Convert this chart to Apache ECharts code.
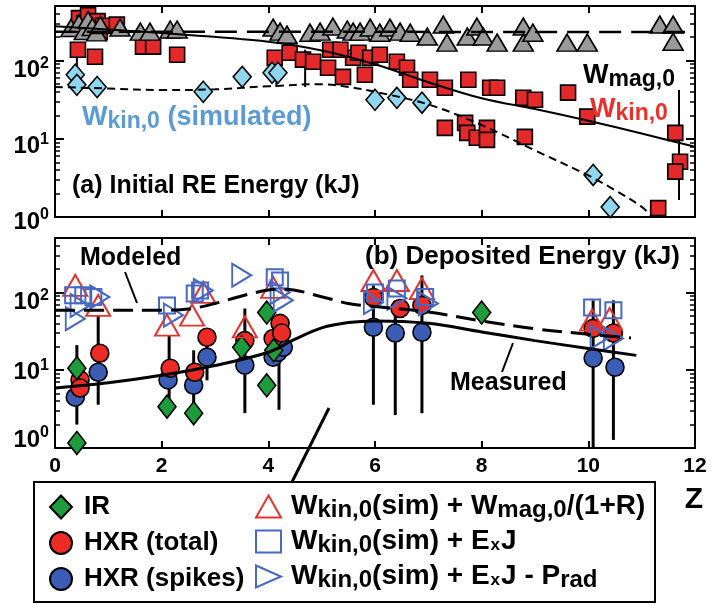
<!DOCTYPE html>
<html>
<head>
<meta charset="utf-8">
<script src="https://cdn.jsdelivr.net/npm/echarts@6/dist/echarts.min.js"></script>
<style>
  html, body { margin: 0; padding: 0; background: #fff; }
  #chart { width: 717px; height: 605px; }
</style>
</head>
<body>
<div id="chart"></div>
<script>
const FONT = '"Liberation Sans", Arial, Helvetica, sans-serif';

// Axis ticks
const zTicks = [0, 2, 4, 6, 8, 10, 12];
const decadeTicks = [1, 10, 100];
const minorTicks = [2, 3, 4, 5, 6, 7, 8, 9, 20, 30, 40, 50, 60, 70, 80, 90, 200, 300, 400, 500];

// ---- (a) Initial RE energy (kJ) vs Z ----
const wMag0 = [[0.3,262],[0.45,300],[0.55,240],[0.62,330],[0.7,270],[0.78,230],[0.85,285],[1.22,265],[1.6,235],[1.78,235],
  [2.16,250],[2.29,250],[4.09,265],[4.22,235],[4.35,215],[4.78,228],[4.97,235],[5.21,273],[5.48,250],[5.59,235],[5.72,235],
  [5.91,265],[6.09,228],[6.28,265],[6.47,235],[6.66,228],[6.98,203],[7.28,289],[7.35,170],[7.73,203],[7.91,273],[8.03,203],
  [8.29,170],[8.78,273],[8.78,170],[8.96,228],[9.6,170],[9.98,170],[11.34,289],[11.59,289],[11.59,175]];
const wKin0 = [[0.43,138],[0.45,350],[0.55,300],[0.62,380],[0.7,260],[0.75,112],[0.8,320],[0.84,235],[0.9,280],[1.16,289],
  [1.65,151],[1.84,151],[2.29,119],[4.12,109],[4.4,126],[4.65,103],[4.84,97],[5.12,81],[5.4,62],[5.59,109],[5.16,138],[5.35,138],
  [5.69,126],[5.91,109],[6.09,119],[5.81,66],[6.41,97],[6.6,81],[6.66,57],[7.03,57],[7.31,45],[7.75,57],[8.16,45],[8.29,45],
  [8.78,33.5],[9.0,31.6],[9.62,39],[9.98,19.2],[7.31,13.8],[7.69,16],[7.73,11.9],[7.91,10.3],[8.1,13.8],[8.1,9.7],[8.81,10.6],
  [11.63,11.9],[11.72,5.1],[11.63,3.8],[11.31,1.3]];
const wKin0Sim = [[0.38,66],[0.41,49],[0.79,46],[2.78,40],[3.51,62],[4.07,70],[4.18,70],[6.0,31.6],[6.41,33.5],[6.88,29],[10.09,3.45],[10.41,1.34]];
const wMag0Fit = [[0,235],[12,232]];
const wKin0Fit = [[0,275],[2,225],[4,175],[5,135],[6,90],[7,53],[8,33],[9,24],[10,17],[11,11.7],[12,7.9]];
const wKin0SimFit = [[0,46],[1,44],[2,42],[3,43],[4,47],[5,50],[5.5,46],[6,40],[7,27.5],[8,15],[9,7.1],[10,3.4],[10.5,2.2],[11,1.35],[11.2,1.0]];
const wKin0Err = [[0.41,49,138],[4.15,46,100],[4.69,46,138],[8.1,8,16],[11.7,1.65,42]];   // [Z, low, high]

// ---- (b) Deposited energy (kJ) vs Z ----
const irData = [[0.41,10.6],[0.41,1.16],[2.1,3.4],[2.6,2.8],[3.5,19.7],[3.97,55],[4.1,18],[3.97,6.4],[8.0,55]];
const hxrTotal = [[0.47,7.5],[0.47,5.9],[0.84,16.5],[2.16,10.6],[2.62,9.4],[2.85,26.5],[3.56,24],[4.09,25.6],[4.22,40],[4.25,30],
  [5.97,86],[6.47,62],[6.88,68],[10.09,34.5],[10.47,30]];
const hxrSpikes = [[0.38,4.5],[0.81,9.4],[2.12,7.5],[2.6,6.4],[2.85,14.7],[3.56,11.6],[4.09,14.7],[4.18,17],[4.28,19.7],
  [5.97,35.6],[6.38,30],[6.88,30.7],[10.09,14.3],[10.5,10.9]];
const hxrErr = [[0.41,2.0,21],[0.81,3.6,51],[2.14,4.1,28],[2.6,2.3,18],[2.85,7.4,24],[3.56,2.8,62],[4.2,3.1,32.5],
  [5.97,3.6,123],[6.38,2.65,79],[6.88,2.8,165],[10.09,1.0,79],[10.47,1.27,79]];     // [Z, low, high]
const simPlusMag = [[0.38,123],[0.81,68],[2.1,38],[2.57,51],[2.78,100],[3.56,36],[4.09,116],[5.97,142],[6.41,142],[6.88,112],[10.07,44],[10.4,46]];
const simPlusEJ = [[0.34,92],[0.53,92],[0.72,87],[2.1,68],[2.62,97],[2.72,106],[4.12,156],[4.22,142],[6.0,100],[6.41,112],[6.94,87],[10.07,64],[10.47,59]];
const simPlusEJRad = [[0.38,46],[0.47,68],[0.84,87],[2.22,51],[2.78,106],[3.5,166],[4.22,100],[4.28,79],[5.97,74],[6.41,84],[7.0,72],[10.22,26.5],[10.47,25.6]];
const modeledFit = [[0,59],[1,59],[2,59],[2.5,61],[3,72],[3.5,90],[4,107],[4.3,110],[5,88],[5.5,72],[6,66],[7,56],[8,43],[9,34],[10,29],[10.8,26]];
const measuredFit = [[0,5.9],[1,6.9],[2,8.6],[3,11.5],[4,17],[4.5,25],[5,35],[5.5,41],[6,43],[7,40],[8,31],[9,24],[10,19],[10.9,15.5]];

// Legend entries
const legendLeft = ['IR', 'HXR (total)', 'HXR (spikes)'];
const legendRight = ['Wkin,0(sim) + Wmag,0/(1+R)', 'Wkin,0(sim) + ExJ', 'Wkin,0(sim) + ExJ - Prad'];
const legendRich = {
  'Wkin,0(sim) + Wmag,0/(1+R)': '{m|W}{s|kin,0}{m|(sim) + W}{s|mag,0}{m|/(1+R)}',
  'Wkin,0(sim) + ExJ': '{m|W}{s|kin,0}{m|(sim) + E}{x|x}{m|J}',
  'Wkin,0(sim) + ExJ - Prad': '{m|W}{s|kin,0}{m|(sim) + E}{x|x}{m|J - P}{s|rad}'
};

const RIGHT_TRI = 'path://M0,0L10,6L0,12Z';

function decadeLabel(offsets) {
  // offsets: vertical shift (px) of each decade label relative to its tick
  const rich = {
    b: { fontFamily: FONT, fontSize: 24, fontWeight: 'bold', color: '#000', lineHeight: 30 },
    s: { fontFamily: FONT, fontSize: 16, fontWeight: 'bold', color: '#000', verticalAlign: 'top' }
  };
  Object.keys(offsets).forEach(e => {
    rich['p' + e] = { fontSize: 1, lineHeight: Math.max(1, Math.abs(offsets[e]) * 2) };
  });
  return {
    customValues: decadeTicks,
    margin: 6,
    rich: rich,
    formatter: v => {
      const e = Math.round(Math.log10(v));
      const core = '{b|10}{s|' + e + '}';
      const d = offsets[e] || 0;
      if (d > 0) return '{p' + e + '| }\n' + core;
      if (d < 0) return core + '\n{p' + e + '| }';
      return core;
    }
  };
}

function xAxes(grid, withLabels) {
  const base = {
    gridIndex: grid, type: 'value', min: 0, max: 12, interval: 2,
    axisLine: { show: false }, splitLine: { show: false },
    axisTick: { inside: true, length: 7, lineStyle: { width: 2, color: '#000' } }
  };
  return [
    Object.assign({}, base, {
      position: 'bottom',
      axisLabel: withLabels
        ? { show: true, fontFamily: FONT, fontSize: 21, fontWeight: 'bold', color: '#000', margin: 8 }
        : { show: false }
    }),
    Object.assign({}, base, { position: 'top', axisLabel: { show: false } })
  ];
}

function yAxes(grid, offsets) {
  const base = {
    gridIndex: grid, type: 'log', logBase: 10, min: 1, max: 500,
    axisLine: { show: false }, splitLine: { show: false }, minorSplitLine: { show: false }
  };
  const major = { inside: true, length: 9, customValues: decadeTicks, lineStyle: { width: 2, color: '#000' } };
  const minor = { inside: true, length: 5, customValues: minorTicks, lineStyle: { width: 1.5, color: '#000' } };
  return [
    Object.assign({}, base, { position: 'left', axisTick: major, axisLabel: decadeLabel(offsets) }),
    Object.assign({}, base, { position: 'left', axisTick: minor, axisLabel: { show: false } }),
    Object.assign({}, base, { position: 'right', axisTick: major, axisLabel: { show: false } }),
    Object.assign({}, base, { position: 'right', axisTick: minor, axisLabel: { show: false } })
  ];
}

function errorBars(data, xi, yi, width) {
  return {
    type: 'custom', xAxisIndex: xi, yAxisIndex: yi, data: data, silent: true,
    encode: { x: 0, y: [1, 2] },
    renderItem: (params, api) => {
      const p1 = api.coord([api.value(0), api.value(1)]);
      const p2 = api.coord([api.value(0), api.value(2)]);
      return { type: 'line', shape: { x1: p1[0], y1: p1[1], x2: p2[0], y2: p2[1] },
               style: { stroke: '#000', lineWidth: width } };
    }
  };
}

function fitLine(data, xi, yi, width, dash) {
  return {
    type: 'line', xAxisIndex: xi, yAxisIndex: yi, data: data, symbol: 'none', smooth: 0.35, silent: true,
    lineStyle: { color: '#000', width: width, type: dash || 'solid' }
  };
}

function scatter(name, data, xi, yi, symbol, size, fill, stroke, bw) {
  return {
    name: name, type: 'scatter', xAxisIndex: xi, yAxisIndex: yi, data: data,
    symbol: symbol, symbolSize: size, symbolKeepAspect: false,
    itemStyle: { color: fill, borderColor: stroke, borderWidth: bw, opacity: 1 }
  };
}

const subRich = (color, main, sub) => ({
  w: { fontFamily: FONT, fontSize: main, fontWeight: 'bold', fill: color, lineHeight: 34 },
  s: { fontFamily: FONT, fontSize: sub, fontWeight: 'bold', fill: color, padding: [8, 0, 0, 0], lineHeight: 34 }
});

const chart = echarts.init(document.getElementById('chart'), null, { renderer: 'canvas' });

chart.setOption({
  animation: false,
  backgroundColor: '#fff',
  grid: [
    { left: 55, top: 6, width: 640, height: 211, show: true, borderColor: '#000', borderWidth: 2, backgroundColor: 'transparent' },
    { left: 55, top: 238, width: 640, height: 210, show: true, borderColor: '#000', borderWidth: 2, backgroundColor: 'transparent' }
  ],
  xAxis: xAxes(0, false).concat(xAxes(1, true)),
  yAxis: yAxes(0, { 0: 5, 1: 8, 2: 10 }).concat(yAxes(1, { 0: -8, 1: 2, 2: 10 })),
  legend: [
    {
      data: legendLeft, orient: 'vertical', left: 49, top: 491, padding: 0, itemGap: 4,
      itemWidth: 22, itemHeight: 23, symbolKeepAspect: false, selectedMode: false,
      textStyle: { fontFamily: FONT, fontSize: 26, fontWeight: 'bold', color: '#000', lineHeight: 32, padding: [0, 0, 0, 7] }
    },
    {
      data: legendRight, orient: 'vertical', left: 255, top: 491, padding: 0, itemGap: 4,
      itemWidth: 25, itemHeight: 22, symbolKeepAspect: false, selectedMode: false,
      formatter: n => legendRich[n],
      textStyle: {
        fontFamily: FONT, fontWeight: 'bold', color: '#000', padding: [0, 0, 0, 5],
        rich: {
          m: { fontFamily: FONT, fontSize: 28, fontWeight: 'bold', color: '#000', lineHeight: 32 },
          s: { fontFamily: FONT, fontSize: 24, fontWeight: 'bold', color: '#000', lineHeight: 32, padding: [7, 0, 0, 0] },
          x: { fontFamily: FONT, fontSize: 17, fontWeight: 'bold', color: '#000', lineHeight: 32, padding: [8, 1, 0, 1] }
        }
      }
    }
  ],
  series: [
    // (a)
    fitLine(wMag0Fit, 0, 0, 2.5, [22, 10]),
    fitLine(wKin0Fit, 0, 0, 2),
    fitLine(wKin0SimFit, 0, 0, 2, [8, 5]),
    errorBars(wKin0Err, 0, 0, 2),
    scatter('Wkin,0', wKin0, 0, 0, 'rect', 15, '#e4292a', '#000', 1.6),
    scatter('Wmag,0', wMag0, 0, 0, 'triangle', [20, 17], '#9a9a9a', '#000', 1.6),
    scatter('Wkin,0 (simulated)', wKin0Sim, 0, 0, 'diamond', [18, 21], '#8fd6f0', '#000', 1.6),
    // (b)
    fitLine(modeledFit, 2, 4, 3, [20, 9]),
    fitLine(measuredFit, 2, 4, 3),
    scatter('HXR (spikes)', hxrSpikes, 2, 4, 'circle', 18, '#3c5db5', '#000', 1.6),
    scatter('HXR (total)', hxrTotal, 2, 4, 'circle', 18, '#ed2b25', '#000', 1.6),
    errorBars(hxrErr, 2, 4, 3),
    scatter('IR', irData, 2, 4, 'diamond', [18, 23], '#1e9c3c', '#000', 1.6),
    scatter('Wkin,0(sim) + Wmag,0/(1+R)', simPlusMag, 2, 4, 'triangle', [24, 21], 'rgba(0,0,0,0)', '#e3342f', 2),
    scatter('Wkin,0(sim) + ExJ', simPlusEJ, 2, 4, 'rect', 16, 'rgba(0,0,0,0)', '#4769c2', 2),
    scatter('Wkin,0(sim) + ExJ - Prad', simPlusEJRad, 2, 4, RIGHT_TRI, [19, 23], 'rgba(0,0,0,0)', '#4769c2', 2)
  ],
  graphic: [
    { type: 'text', x: 72, y: 186, z: 50,
      style: { text: '(a) Initial RE Energy (kJ)', font: 'bold 25px ' + FONT, fill: '#000', verticalAlign: 'middle' } },
    { type: 'text', x: 82, y: 118, z: 50,
      style: { text: '{w|W}{s|kin,0}{w| (simulated)}', rich: subRich('#5b9bd5', 27, 23), verticalAlign: 'middle' } },
    { type: 'text', x: 583, y: 76, z: 50,
      style: { text: '{w|W}{s|mag,0}', rich: subRich('#000', 27, 23), verticalAlign: 'middle' } },
    { type: 'text', x: 590, y: 110, z: 50,
      style: { text: '{w|W}{s|kin,0}', rich: subRich('#e8312b', 27, 23), verticalAlign: 'middle' } },
    { type: 'text', x: 80, y: 258, z: 50,
      style: { text: 'Modeled', font: 'bold 25px ' + FONT, fill: '#000', verticalAlign: 'middle' } },
    { type: 'text', x: 365, y: 257, z: 50,
      style: { text: '(b) Deposited Energy (kJ)', font: 'bold 26px ' + FONT, fill: '#000', verticalAlign: 'middle' } },
    { type: 'text', x: 450, y: 383, z: 50,
      style: { text: 'Measured', font: 'bold 25px ' + FONT, fill: '#000', verticalAlign: 'middle' } },
    { type: 'line', z: 50, shape: { x1: 125, y1: 272, x2: 137, y2: 303 }, style: { stroke: '#000', lineWidth: 2 } },
    { type: 'line', z: 50, shape: { x1: 513, y1: 343, x2: 502, y2: 372 }, style: { stroke: '#000', lineWidth: 2 } },
    { type: 'line', z: 50, shape: { x1: 329, y1: 408, x2: 292, y2: 482 }, style: { stroke: '#000', lineWidth: 3 } },
    { type: 'rect', z: 40, shape: { x: 34, y: 482, width: 621, height: 120 }, style: { fill: 'none', stroke: '#000', lineWidth: 2 } },
    { type: 'text', x: 694, y: 500, z: 50,
      style: { text: 'Z', font: 'bold 30px ' + FONT, fill: '#000', align: 'center', verticalAlign: 'middle' } }
  ]
});
</script>
</body>
</html>
